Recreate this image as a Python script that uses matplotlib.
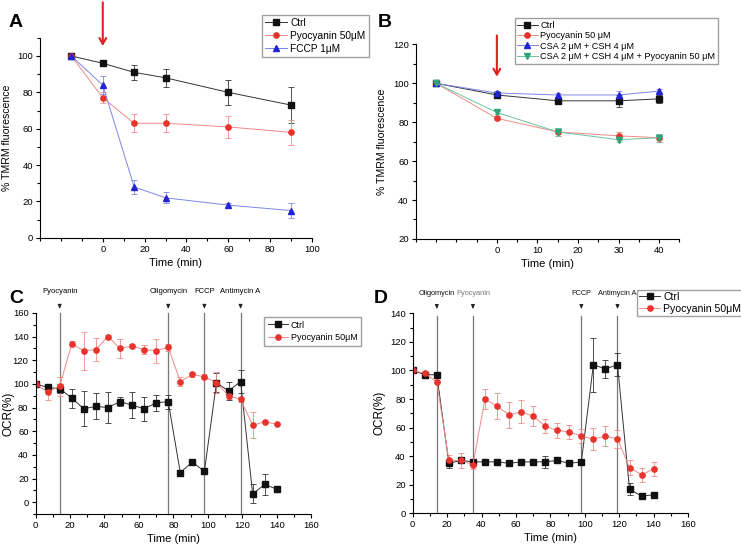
import numpy as np
import matplotlib
matplotlib.use("Agg")
import matplotlib.pyplot as plt
from matplotlib.ticker import MultipleLocator, FixedLocator
from matplotlib.lines import Line2D

plt.rcParams['font.family'] = ['Liberation Sans', 'DejaVu Sans']
plt.rcParams['font.size'] = 7

# ---- panel A data ----
a_time = [-15, 0, 15, 30, 60, 90]
a_ctrl = [100, 96, 91, 88, 80, 73]
a_ctrl_err = [0, 1, 4, 5, 7, 10]
a_pyo = [100, 77, 63, 63, 61, 58]
a_pyo_err = [0, 3, 5, 5, 6, 7]
a_fccp = [100, 84, 28, 22, 18, 15]
a_fccp_err = [0, 5, 4, 3, 1, 4]

# ---- panel B data ----
b_time = [-15, 0, 15, 30, 40]
b_ctrl = [100, 94, 91, 91, 92]
b_ctrl_err = [1, 1, 1, 3, 2]
b_pyo = [100, 82, 75, 73, 72]
b_pyo_err = [0, 1, 2, 2, 2]
b_csa = [100, 95, 94, 94, 96]
b_csa_err = [1, 1, 1, 2, 1]
b_csa_pyo = [100, 85, 75, 71, 72]
b_csa_pyo_err = [0, 1, 2, 1, 2]

# ---- panel C data ----
c_time = list(range(0, 141, 7))
c_ctrl = [100, 97, 96, 88, 79, 81, 80, 85, 82, 79, 84, 85, 25, 34, 26, 101, 94, 102, 7, 15, 11]
c_ctrl_err = [0, 3, 4, 8, 15, 11, 13, 4, 11, 10, 7, 6, 2, 2, 2, 8, 8, 10, 8, 9, 1]
c_pyo = [100, 93, 98, 134, 128, 129, 140, 130, 132, 129, 128, 131, 102, 108, 106, 101, 90, 87, 65, 68, 66]
c_pyo_err = [0, 7, 8, 2, 16, 10, 1, 8, 2, 4, 10, 3, 4, 2, 2, 9, 3, 2, 11, 1, 1]
c_events = ["Pyocyanin", "Oligomycin", "FCCP", "Antimycin A"]
c_event_time = [14, 77, 98, 119]

# ---- panel D data ----
d_time = list(range(0, 141, 7))
d_ctrl = [100, 97, 97, 35, 37, 36, 36, 36, 35, 36, 36, 36, 37, 35, 36, 104, 101, 104, 17, 12, 13]
d_ctrl_err = [0, 1, 1, 3, 1, 1, 1, 1, 1, 1, 1, 4, 1, 1, 1, 19, 6, 8, 4, 1, 1]
d_pyo = [100, 98, 92, 37, 37, 34, 80, 75, 69, 71, 68, 61, 58, 57, 54, 52, 54, 52, 32, 27, 31]
d_pyo_err = [0, 0, 1, 4, 5, 3, 7, 9, 9, 8, 7, 5, 5, 5, 5, 8, 7, 6, 5, 5, 5]
d_events = ["Oligomycin", "Pyocyanin", "FCCP", "Antimycin A"]
d_event_time = [14, 35, 98, 119]

BLACK = '#111111'
RED = '#e8322b'
BLUE = '#2323d6'
GREEN = '#2fa37a'


def series(ax, x, y, err, color, marker, label, ms=3.8, lc=None):
    ax.errorbar(x, y, yerr=err, color=lc or color, ecolor=lc or color,
                elinewidth=0.6, capsize=2, capthick=0.6, lw=0.7,
                marker=marker, ms=ms, mfc=color, mec=color)
    # legend handle without error bars
    return Line2D([], [], color=lc or color, lw=0.7, marker=marker, ms=ms,
                  mfc=color, mec=color, label=label)


def style(ax):
    for s in ['top', 'right']:
        ax.spines[s].set_visible(False)
    ax.tick_params(direction='out', length=3, width=0.8, labelsize=6.8, pad=2)
    ax.tick_params(which='minor', direction='out', length=2, width=0.8)


fig = plt.figure(figsize=(7.41, 5.48), dpi=100)

# ---------------- A ----------------
ax = fig.add_axes([0.054, 0.566, 0.367, 0.365])
h = [series(ax, a_time, a_ctrl, a_ctrl_err, BLACK, 's', 'Ctrl', lc='#333333'),
     series(ax, a_time, a_pyo, a_pyo_err, RED, 'o', 'Pyocyanin 50\u03bcM', lc='#f08a86'),
     series(ax, a_time, a_fccp, a_fccp_err, BLUE, '^', 'FCCP 1\u03bcM', lc='#7f86e8')]
ax.set_xlim(-30, 100)
ax.set_ylim(0, 110)
ax.xaxis.set_major_locator(FixedLocator([0, 20, 40, 60, 80, 100]))
ax.xaxis.set_minor_locator(MultipleLocator(10))
ax.yaxis.set_major_locator(FixedLocator([0, 20, 40, 60, 80, 100]))
ax.yaxis.set_minor_locator(MultipleLocator(10))
style(ax)
ax.set_xlabel('Time (min)', fontsize=8, labelpad=3)
ax.set_ylabel('% TMRM fluorescence', fontsize=7.6, labelpad=4)
ax.annotate('', xy=(0, 104), xytext=(0, 131), annotation_clip=False,
            arrowprops=dict(arrowstyle='->,head_width=0.35,head_length=0.6', color='#e02020', lw=1.5))
ax.legend(handles=h, loc='upper left', bbox_to_anchor=(0.816, 1.115), fontsize=7.3, frameon=True,
          fancybox=False, edgecolor='#888888', borderpad=0.3, handlelength=2.2,
          labelspacing=0.3, handletextpad=0.3, borderaxespad=0)
fig.text(0.012, 0.975, 'A', fontsize=14, fontweight='bold', va='top')

# ---------------- B ----------------
ax = fig.add_axes([0.561, 0.564, 0.356, 0.355])
h = [series(ax, b_time, b_ctrl, b_ctrl_err, BLACK, 's', 'Ctrl', lc='#333333'),
     series(ax, b_time, b_pyo, b_pyo_err, RED, 'o', 'Pyocyanin 50 \u03bcM', lc='#f08a86'),
     series(ax, b_time, b_csa, b_csa_err, BLUE, '^', 'CSA 2 \u03bcM + CSH 4 \u03bcM', lc='#7f86e8'),
     series(ax, b_time, b_csa_pyo, b_csa_pyo_err, GREEN, 'v',
            'CSA 2 \u03bcM + CSH 4 \u03bcM + Pyocyanin 50 \u03bcM', lc='#6cc39f')]
ax.set_xlim(-20, 45)
ax.set_ylim(20, 120)
ax.xaxis.set_major_locator(FixedLocator([0, 10, 20, 30, 40]))
ax.xaxis.set_minor_locator(MultipleLocator(5))
ax.yaxis.set_major_locator(MultipleLocator(20))
ax.yaxis.set_minor_locator(MultipleLocator(10))
style(ax)
ax.set_xlabel('Time (min)', fontsize=8, labelpad=3)
ax.set_ylabel('% TMRM fluorescence', fontsize=7.6, labelpad=4)
ax.annotate('', xy=(0, 102), xytext=(0, 126), annotation_clip=False,
            arrowprops=dict(arrowstyle='->,head_width=0.35,head_length=0.6', color='#e02020', lw=1.5))
ax.legend(handles=h, loc='upper left', bbox_to_anchor=(0.375, 1.135), fontsize=6.6, frameon=True,
          fancybox=False, edgecolor='#888888', borderpad=0.3, handlelength=2.2,
          labelspacing=0.15, handletextpad=0.3, borderaxespad=0)
fig.text(0.51, 0.975, 'B', fontsize=14, fontweight='bold', va='top')

# ---------------- C ----------------
ax = fig.add_axes([0.048, 0.062, 0.372, 0.367])
for t, name in zip(c_event_time, c_events):
    ax.plot([t, t], [-10, 160], color='#777777', lw=0.9, zorder=1, clip_on=False)
    ax.annotate('', xy=(t, 161), xytext=(t, 169), annotation_clip=False,
                arrowprops=dict(arrowstyle='-|>,head_width=0.15,head_length=0.35', color='#222222', lw=0.7))
    ax.text(t, 178, name, ha='center', va='center', fontsize=5.5)
h = [series(ax, c_time, c_ctrl, c_ctrl_err, BLACK, 's', 'Ctrl', lc='#333333'),
     series(ax, c_time, c_pyo, c_pyo_err, RED, 'o', 'Pyocyanin 50\u03bcM', lc='#f08a86')]
ax.set_xlim(0, 160)
ax.set_ylim(-10, 160)
ax.xaxis.set_major_locator(MultipleLocator(20))
ax.xaxis.set_minor_locator(MultipleLocator(10))
ax.yaxis.set_major_locator(FixedLocator(list(range(0, 161, 20))))
ax.yaxis.set_minor_locator(MultipleLocator(10))
style(ax)
ax.set_xlabel('Time (min)', fontsize=8, labelpad=3)
ax.set_ylabel('OCR(%)', fontsize=8.5)
ax.yaxis.set_label_coords(-0.078, 0.5)
ax.legend(handles=h, loc='upper left', bbox_to_anchor=(0.83, 0.98), fontsize=6.5, frameon=True,
          fancybox=False, edgecolor='#888888', borderpad=0.4, handlelength=2.2,
          labelspacing=0.4, handletextpad=0.3, borderaxespad=0)
fig.text(0.012, 0.47, 'C', fontsize=14, fontweight='bold', va='top')

# ---------------- D ----------------
ax = fig.add_axes([0.557, 0.0633, 0.3715, 0.365])
for t, name in zip(d_event_time, d_events):
    ax.plot([t, t], [0, 138], color='#777777', lw=0.9, zorder=1, clip_on=False)
    ax.annotate('', xy=(t, 141), xytext=(t, 147), annotation_clip=False,
                arrowprops=dict(arrowstyle='-|>,head_width=0.15,head_length=0.35', color='#222222', lw=0.7))
    ax.text(t, 154, name, ha='center', va='center', fontsize=5.3,
            color='#777777' if name == 'Pyocyanin' else '#111111')
h = [series(ax, d_time, d_ctrl, d_ctrl_err, BLACK, 's', 'Ctrl', lc='#333333'),
     series(ax, d_time, d_pyo, d_pyo_err, RED, 'o', 'Pyocyanin 50\u03bcM', lc='#f08a86')]
ax.set_xlim(0, 160)
ax.set_ylim(0, 140)
ax.xaxis.set_major_locator(MultipleLocator(20))
ax.xaxis.set_minor_locator(MultipleLocator(10))
ax.yaxis.set_major_locator(MultipleLocator(20))
ax.yaxis.set_minor_locator(MultipleLocator(10))
style(ax)
ax.set_xlabel('Time (min)', fontsize=8, labelpad=3)
ax.set_ylabel('OCR(%)', fontsize=8.5, labelpad=3)
ax.legend(handles=h, loc='upper left', bbox_to_anchor=(0.815, 1.117), fontsize=7.6, frameon=True,
          fancybox=False, edgecolor='#888888', borderpad=0.2, handlelength=2.0,
          labelspacing=0.2, handletextpad=0.3, borderaxespad=0)
fig.text(0.505, 0.47, 'D', fontsize=14, fontweight='bold', va='top')

fig.savefig('out.png', dpi=100)
